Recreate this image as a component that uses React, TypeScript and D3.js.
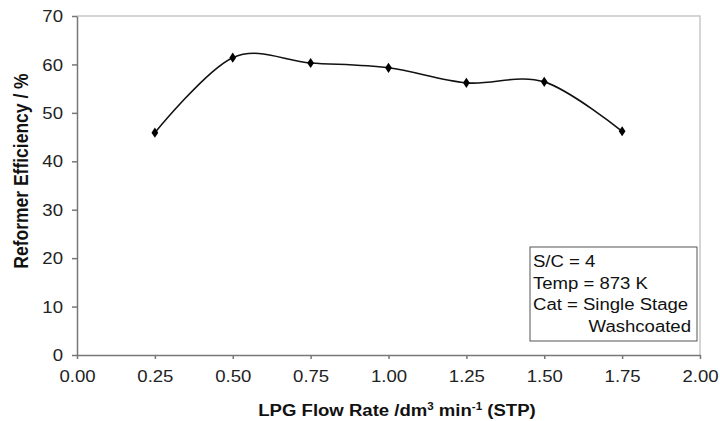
import React, { useEffect, useRef } from 'react';
import * as d3 from 'd3';

const flowRates = [0.25, 0.5, 0.75, 1.0, 1.25, 1.5, 1.75];
const efficiency = [45.9, 61.4, 60.3, 59.3, 56.2, 56.4, 46.2];
const xTicks = [0, 0.25, 0.5, 0.75, 1.0, 1.25, 1.5, 1.75, 2.0];
const yTicks = [0, 10, 20, 30, 40, 50, 60, 70];
const noteLines = ['S/C = 4', 'Temp = 873 K', 'Cat = Single Stage'];
const noteLast = 'Washcoated';

const App = () => {
  const svgRef = useRef<SVGSVGElement>(null);

  useEffect(() => {
    if (!svgRef.current) return;
    const svg = d3.select(svgRef.current);
    svg.selectAll('*').remove();

    const w = 720;
    const h = 421;
    const m = { left: 77, right: 700, top: 16, bottom: 355 };
    const font = 'Liberation Sans, Arial, sans-serif';
    const sx = 1.16; // the original picture is a bit stretched sideways

    const x = d3.scaleLinear().domain([0, 2]).range([m.left, m.right]);
    const y = d3.scaleLinear().domain([0, 70]).range([m.bottom, m.top]);

    svg.attr('width', w).attr('height', h);
    svg.append('rect').attr('width', w).attr('height', h).attr('fill', '#fff');

    // plot frame (light top/right)
    svg.append('path')
      .attr('d', `M${m.left},${m.top}H${m.right}V${m.bottom}`)
      .attr('fill', 'none')
      .attr('stroke', '#c8c8c8')
      .attr('stroke-width', 1.5);

    const xAxis = svg.append('g')
      .attr('transform', `translate(0,${m.bottom})`)
      .call(d3.axisBottom(x).tickValues(xTicks).tickSize(4).tickSizeOuter(0).tickFormat(d3.format('.2f')));
    xAxis.select('.domain').attr('stroke', '#777').attr('stroke-width', 1.5);
    xAxis.selectAll('line').attr('stroke', '#777').attr('stroke-width', 1.5);
    xAxis.selectAll('text')
      .attr('font-family', font).attr('font-size', 16).attr('fill', '#222')
      .attr('y', 27).attr('dy', 0)
      .attr('transform', `scale(${sx},1)`);

    const yAxis = svg.append('g')
      .attr('transform', `translate(${m.left},0)`)
      .call(d3.axisLeft(y).tickValues(yTicks).tickSize(5).tickSizeOuter(0));
    yAxis.select('.domain').attr('stroke', '#777').attr('stroke-width', 1.5);
    yAxis.selectAll('line').attr('stroke', '#777').attr('stroke-width', 1.5);
    yAxis.selectAll('text')
      .attr('font-family', font).attr('font-size', 16).attr('fill', '#222')
      .attr('x', -14 / sx).attr('dy', '0.35em')
      .attr('transform', `scale(${sx},1)`);

    const pts: [number, number][] = flowRates.map((f, i) => [f, efficiency[i]]);
    const line = d3.line<[number, number]>()
      .x((d) => x(d[0]))
      .y((d) => y(d[1]))
      .curve(d3.curveCardinal.tension(0));

    svg.append('path')
      .datum(pts)
      .attr('d', line)
      .attr('fill', 'none')
      .attr('stroke', '#111')
      .attr('stroke-width', 1.6);

    svg.append('g')
      .selectAll('path')
      .data(pts)
      .enter()
      .append('path')
      .attr('d', d3.symbol(d3.symbolDiamond, 30))
      .attr('transform', (d) => `translate(${x(d[0])},${y(d[1])}) scale(1.15,1)`)
      .attr('fill', '#000');

    // note box
    const note = svg.append('g');
    note.append('rect')
      .attr('x', 530).attr('y', 247).attr('width', 167).attr('height', 94)
      .attr('fill', '#fff').attr('stroke', '#555').attr('stroke-width', 1);
    noteLines.forEach((t, i) => {
      note.append('text')
        .attr('transform', `translate(533,${267 + i * 21.5}) scale(${sx},1)`)
        .attr('font-family', font).attr('font-size', 16).attr('fill', '#111')
        .text(t);
    });
    note.append('text')
      .attr('transform', `translate(691,${267 + 3 * 21.5}) scale(${sx},1)`)
      .attr('text-anchor', 'end')
      .attr('font-family', font).attr('font-size', 16).attr('fill', '#111')
      .text(noteLast);

    // axis titles
    const xt = svg.append('text')
      .attr('transform', `translate(397,416) scale(${sx},1)`)
      .attr('text-anchor', 'middle')
      .attr('font-family', font).attr('font-size', 16).attr('font-weight', 'bold').attr('fill', '#111');
    xt.append('tspan').text('LPG Flow Rate /dm');
    xt.append('tspan').attr('font-size', 10).attr('dy', -6).text('3');
    xt.append('tspan').attr('dy', 6).text(' min');
    xt.append('tspan').attr('font-size', 10).attr('dy', -6).text('-1');
    xt.append('tspan').attr('dy', 6).text(' (STP)');

    svg.append('text')
      .attr('transform', `translate(28,171) rotate(-90) scale(1,${sx})`)
      .attr('text-anchor', 'middle')
      .attr('font-family', font).attr('font-size', 17.5).attr('font-weight', 'bold').attr('fill', '#111')
      .text('Reformer Efficiency / %');
  }, []);

  return <svg ref={svgRef} style={{ position: 'absolute', left: 0, top: 0 }} />;
};

export default App;
